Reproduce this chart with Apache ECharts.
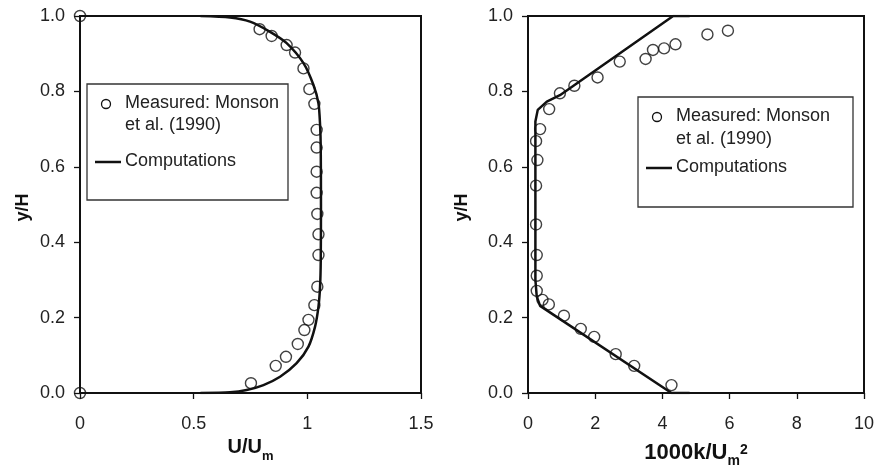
<!DOCTYPE html>
<html>
<head>
<meta charset="utf-8">
<script src="https://cdn.jsdelivr.net/npm/echarts@6/dist/echarts.min.js"></script>
<style>
  html, body { margin: 0; padding: 0; background: #fff; }
  #chart { width: 881px; height: 468px; }
</style>
</head>
<body>
<div id="chart"></div>
<script>
// left panel: mean velocity U/Um vs y/H
const velMeasX = [0, 0.79, 0.843, 0.909, 0.946, 0.983, 1.009, 1.031, 1.041, 1.041, 1.041, 1.041, 1.044,
  1.049, 1.049, 1.044, 1.031, 1.005, 0.987, 0.958, 0.906, 0.861, 0.752, 0]
const velMeasY = [1.0, 0.965, 0.947, 0.923, 0.903, 0.861, 0.806, 0.767, 0.698, 0.651, 0.587, 0.531, 0.475,
  0.421, 0.366, 0.282, 0.233, 0.194, 0.167, 0.13, 0.096, 0.072, 0.026, 0.0]
const velCompX = [0.53, 0.66, 0.733, 0.807, 0.88, 0.953, 1.005, 1.034, 1.049, 1.056, 1.059, 1.06,
  1.059, 1.056, 1.049, 1.027, 0.983, 0.909, 0.836, 0.748, 0.66, 0.53]
const velCompY = [0, 0.002, 0.008, 0.021, 0.043, 0.079, 0.123, 0.176, 0.229, 0.282, 0.35, 0.5,
  0.65, 0.712, 0.768, 0.817, 0.875, 0.928, 0.958, 0.985, 0.996, 1.0]

// right panel: turbulent kinetic energy 1000k/Um^2 vs y/H
const tkeMeasX = [5.95, 5.34, 4.39, 4.05, 3.72, 3.5, 2.73, 2.07, 1.38, 0.95, 0.63, 0.36, 0.24, 0.28, 0.24,
  0.24, 0.26, 0.26, 0.26, 0.43, 0.62, 1.07, 1.57, 1.97, 2.61, 3.16, 4.27]
const tkeMeasY = [0.961, 0.951, 0.925, 0.914, 0.91, 0.886, 0.879, 0.837, 0.815, 0.795, 0.753, 0.7, 0.668, 0.618, 0.55,
  0.447, 0.366, 0.311, 0.271, 0.247, 0.235, 0.205, 0.17, 0.149, 0.103, 0.072, 0.021]
const tkeCompX = [4.81, 4.27, 0.36, 0.26, 0.22, 0.22, 0.29, 0.56, 0.95, 4.32, 4.81]
const tkeCompY = [0, 0, 0.231, 0.256, 0.3, 0.72, 0.751, 0.773, 0.79, 1.0, 1.0]

const yTickLabels = ['0.0', '0.2', '0.4', '0.6', '0.8', '1.0']
const measuredName = 'Measured: Monson'
const measuredName2 = 'et al. (1990)'
const computedName = 'Computations'

const zip = (xs, ys) => xs.map((x, i) => [x, ys[i]])

const font = 'Liberation Sans, Arial, Helvetica, sans-serif'
const ink = '#111'

const chart = echarts.init(document.getElementById('chart'))

function yAxisFor(gridIndex, nameGap) {
  return {
    gridIndex,
    type: 'value',
    min: 0,
    max: 1,
    interval: 0.2,
    name: 'y/H',
    nameLocation: 'middle',
    nameRotate: 90,
    nameGap,
    nameTextStyle: { fontFamily: font, fontSize: 18, fontWeight: 'bold', color: ink, padding: [0, 6, 0, 0] },
    axisLine: { show: true, lineStyle: { color: ink, width: 2 } },
    axisTick: { show: true, length: 6, lineStyle: { color: ink, width: 1.3 } },
    axisLabel: {
      margin: 15,
      fontFamily: font,
      fontSize: 18,
      color: '#222',
      formatter: (v) => yTickLabels[Math.round(v * 5)],
    },
    splitLine: { show: false },
  }
}

function xAxisFor(gridIndex, max, interval, name, nameGap, rich) {
  return {
    gridIndex,
    type: 'value',
    min: 0,
    max,
    interval,
    name,
    nameLocation: 'middle',
    nameGap,
    nameTextStyle: { rich },
    axisLine: { show: true, onZero: false, lineStyle: { color: ink, width: 2 } },
    axisTick: { show: true, length: 6, lineStyle: { color: ink, width: 1.3 } },
    axisLabel: { margin: 22, fontFamily: font, fontSize: 18, color: '#222' },
    splitLine: { show: false },
  }
}

function nameRich(size) {
  const small = Math.round(size * 0.65)
  return {
    b: { fontFamily: font, fontSize: size, fontWeight: 'bold', color: ink, lineHeight: 30, verticalAlign: 'middle' },
    sub: { fontFamily: font, fontSize: small, fontWeight: 'bold', color: ink, lineHeight: 12, verticalAlign: 'bottom' },
    sup: { fontFamily: font, fontSize: small, fontWeight: 'bold', color: ink, height: 24, lineHeight: 24, verticalAlign: 'top' },
  }
}

function legendBox(x, y, w, h, rowGap, lastRowY) {
  const txt = (tx, ty, text) => ({
    type: 'text',
    left: tx,
    top: ty - 10,
    style: { text, fontFamily: font, fontSize: 18, fill: '#222', textVerticalAlign: 'top' },
    z: 11,
  })
  return [
    {
      type: 'rect',
      shape: { x, y, width: w, height: h },
      style: { fill: '#fff', stroke: '#333', lineWidth: 1.3 },
      z: 10,
    },
    {
      type: 'circle',
      shape: { cx: x + 19, cy: y + 20, r: 4.5 },
      style: { fill: '#fff', stroke: ink, lineWidth: 1.3 },
      z: 11,
    },
    txt(x + 38, y + 20, measuredName),
    txt(x + 38, y + 20 + rowGap, measuredName2),
    {
      type: 'line',
      shape: { x1: x + 8, y1: y + lastRowY, x2: x + 34, y2: y + lastRowY },
      style: { stroke: ink, lineWidth: 2.5 },
      z: 11,
    },
    txt(x + 38, y + lastRowY, computedName),
  ]
}

const option = {
  animation: false,
  backgroundColor: '#fff',
  grid: [
    { left: 80, right: 460, top: 16, bottom: 75, outerBoundsMode: 'none', show: true, borderColor: ink, borderWidth: 2 },
    { left: 528, right: 17, top: 16, bottom: 75, outerBoundsMode: 'none', show: true, borderColor: ink, borderWidth: 2 },
  ],
  xAxis: [
    xAxisFor(0, 1.5, 0.5, '{b|U/U}{sub|m}', 31, nameRich(20)),
    xAxisFor(1, 10, 2, '{b|1000k/U}{sub|m}{sup|2}', 41, nameRich(22)),
  ],
  yAxis: [yAxisFor(0, 48), yAxisFor(1, 57)],
  series: [
    {
      name: computedName,
      type: 'line',
      xAxisIndex: 0,
      yAxisIndex: 0,
      data: zip(velCompX, velCompY),
      smooth: 0.25,
      symbol: 'none',
      lineStyle: { color: ink, width: 2.5 },
      z: 2,
    },
    {
      name: measuredName,
      type: 'scatter',
      xAxisIndex: 0,
      yAxisIndex: 0,
      data: zip(velMeasX, velMeasY),
      symbol: 'circle',
      symbolSize: 11,
      itemStyle: { color: 'rgba(255,255,255,0)', borderColor: ink, borderWidth: 1.4 },
      z: 3,
    },
    {
      name: computedName,
      type: 'line',
      xAxisIndex: 1,
      yAxisIndex: 1,
      data: zip(tkeCompX, tkeCompY),
      symbol: 'none',
      lineStyle: { color: ink, width: 2.5 },
      z: 2,
    },
    {
      name: measuredName,
      type: 'scatter',
      xAxisIndex: 1,
      yAxisIndex: 1,
      data: zip(tkeMeasX, tkeMeasY),
      symbol: 'circle',
      symbolSize: 11,
      itemStyle: { color: 'rgba(255,255,255,0)', borderColor: ink, borderWidth: 1.4 },
      z: 3,
    },
  ],
  graphic: [
    ...legendBox(87, 84, 201, 116, 22, 78),
    ...legendBox(638, 97, 215, 110, 23, 71),
  ],
}

chart.setOption(option)
</script>
</body>
</html>
